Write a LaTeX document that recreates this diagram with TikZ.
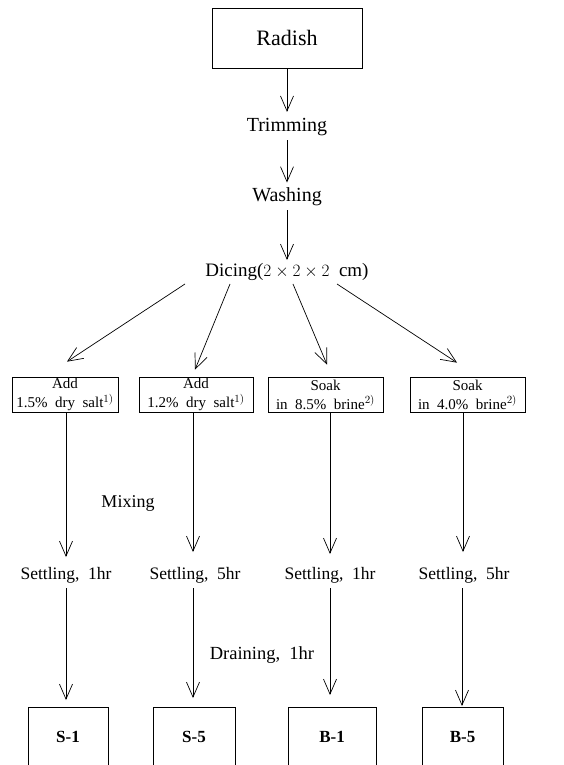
\documentclass[tikz,border=0pt]{standalone}
\usepackage{fontspec}
\setmainfont{Liberation Serif}
\usetikzlibrary{arrows.meta}
\begin{document}
\begin{tikzpicture}[x=1pt,y=-1pt,line width=0.7pt,
  arr/.style={-{Straight Barb[length=15pt,width=13pt,line width=0.7pt]}},
  lbl/.style={font=\fontsize{17.5}{20}\selectfont,inner sep=1pt},
  big/.style={font=\fontsize{20}{23}\selectfont,inner sep=1pt},
  stepbox/.style={draw,align=center,font=\fontsize{15}{19}\selectfont,inner sep=1pt,minimum height=35pt},
  endbox/.style={draw,anchor=north,minimum height=60pt,font=\bfseries\fontsize{17}{20}\selectfont}]
\clip (0,0) rectangle (564,765);
\node[draw,font=\fontsize{22}{25}\selectfont,minimum width=150pt,minimum height=60pt] (radish) at (287,38) {Radish};
\node[big] (trim) at (287,127) {Trimming};
\node[big] (wash) at (287,197) {Washing};
\node[big,font=\fontsize{19}{22}\selectfont] (dice) at (287,272) {Dicing($2\times2\times2$~~cm)};
\draw[arr,shorten >=5pt] (radish) -- (trim);
\draw[arr,shorten <=3pt,shorten >=4pt] (trim) -- (wash);
\draw[arr,shorten <=3pt,shorten >=2pt] (wash) -- (dice);
% treatment boxes
\node[stepbox,minimum width=106pt] (b1) at (65,394.5) {Add\\1.5\%~~dry~~salt$^{1)}$};
\node[stepbox,minimum width=114pt] (b2) at (196,394.5) {Add\\1.2\%~~dry~~salt$^{1)}$};
\node[stepbox,minimum width=115pt] (b3) at (325.5,394.5) {Soak\\in~~8.5\%~~brine$^{2)}$};
\node[stepbox,minimum width=115pt] (b4) at (467.5,394.5) {Soak\\in~~4.0\%~~brine$^{2)}$};
\draw[arr] ([xshift=-102pt,yshift=-2pt]dice.south) -- ([xshift=2pt,yshift=15pt]b1.north);
\draw[arr] ([xshift=-57pt,yshift=-2pt]dice.south) -- ([xshift=-1pt,yshift=7pt]b2.north);
\draw[arr] ([xshift=6pt,yshift=-2pt]dice.south) -- ([xshift=1.5pt,yshift=12pt]b3.north);
\draw[arr] ([xshift=50pt,yshift=-2pt]dice.south) -- ([xshift=-10.5pt,yshift=14pt]b4.north);
% settling
\node[lbl] (s1) at (66,575) {Settling,~~1hr};
\node[lbl] (s2) at (195,575) {Settling,~~5hr};
\node[lbl] (s3) at (330,575) {Settling,~~1hr};
\node[lbl] (s4) at (464,575) {Settling,~~5hr};
\node[lbl,font=\fontsize{18}{20}\selectfont] (mix) at (128,503) {Mixing};
\node[lbl,font=\fontsize{18.5}{20}\selectfont] (drain) at (262,655) {Draining,~~1hr};
\draw[arr,shorten >=6pt] (b1.south -| 66,0) -- (66,563);
\draw[arr,shorten >=6pt] (b2.south -| 193,0) -- (193,558);
\draw[arr,shorten >=6pt] (b3.south -| 330,0) -- (330,560);
\draw[arr,shorten >=6pt] (b4.south -| 463,0) -- (463,558);
% end boxes
\node[endbox,minimum width=80pt] (o1) at (68,707) {S-1};
\node[endbox,minimum width=82pt] (o2) at (194,707) {S-5};
\node[endbox,minimum width=88pt] (o3) at (332,707) {B-1};
\node[endbox,minimum width=81pt] (o4) at (462.5,707) {B-5};
\draw[arr,shorten <=4pt,shorten >=7pt] (s1.south -| 66,0) -- (o1.north -| 66,0);
\draw[arr,shorten <=4pt,shorten >=9pt] (s2.south -| 193,0) -- (o2.north -| 193,0);
\draw[arr,shorten <=4pt,shorten >=12pt] (s3.south -| 330,0) -- (o3.north -| 330,0);
\draw[arr,shorten <=4pt,shorten >=1pt] (s4.south -| 462,0) -- (o4.north -| 462,0);
\end{tikzpicture}
\end{document}
